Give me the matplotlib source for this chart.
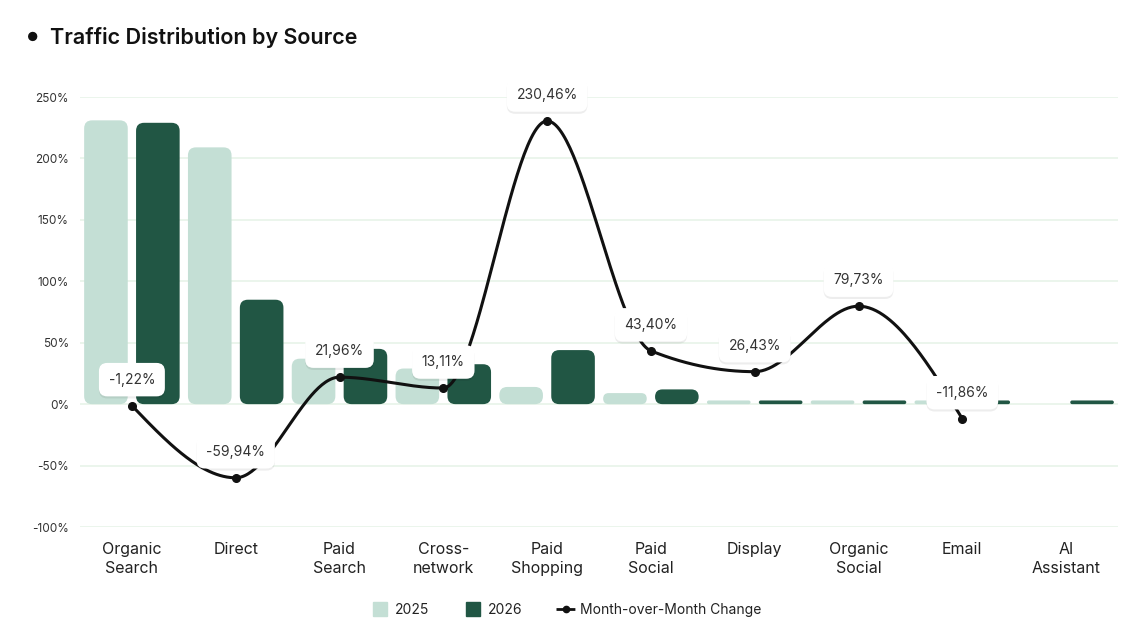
import numpy as np
import matplotlib
matplotlib.use("Agg")
import matplotlib.pyplot as plt
from matplotlib.patches import FancyBboxPatch
from matplotlib.lines import Line2D
import matplotlib.patheffects as pe

categories = ["Organic\nSearch", "Direct", "Paid\nSearch", "Cross-\nnetwork", "Paid\nShopping",
              "Paid\nSocial", "Display", "Organic\nSocial", "Email", "AI\nAssistant"]
y2025 = [231, 209, 37, 29, 14, 9, 3, 3, 3, 0]
y2026 = [229, 85, 45, 32.5, 44, 12, 3, 3, 3, 3]
mom = [-1.22, -59.94, 21.96, 13.11, 230.46, 43.40, 26.43, 79.73, -11.86, None]
yticks = [-100, -50, 0, 50, 100, 150, 200, 250]

C25 = "#c4dfd5"
C26 = "#215644"
GRID = "#e8f3e9"

plt.rcParams['font.family'] = ['Inter', 'DejaVu Sans']

W, H = 1148, 623
fig = plt.figure(figsize=(W / 100, H / 100), dpi=100)
L, R, T, B = 80, 1118, 97, 527
ax = fig.add_axes([L / W, 1 - B / H, (R - L) / W, (B - T) / H])
n = len(categories)
ax.set_xlim(-0.5, n - 0.5)
ax.set_ylim(-100, 250)
for s in ax.spines.values():
    s.set_visible(False)
ax.set_yticks(yticks)
ax.set_yticklabels([f"{v}%" for v in yticks], fontsize=8.5, color="#333333")
ax.tick_params(axis='y', length=0, pad=8)
ax.set_xticks(range(n))
ax.set_xticklabels(categories, fontsize=11.5, color="#222222", linespacing=1.3)
ax.tick_params(axis='x', length=0, pad=11)
ax.grid(axis='y', color=GRID, lw=1.2, zorder=0)
ax.set_axisbelow(True)

# pixel scales
px_x = (R - L) / n          # pixels per x unit
px_y = (B - T) / 350.0      # pixels per y unit
aspect = px_x / px_y

xs = np.arange(n)
bw = 0.42
off = 0.25
bars25 = ax.bar(xs - off, y2025, width=bw, color="none")
bars26 = ax.bar(xs + off, y2026, width=bw, color="none")

def rounded(rect, color):
    x, y = rect.get_x(), rect.get_y()
    w, h = rect.get_width(), rect.get_height()
    if h <= 0:
        return
    hp = h * px_y
    wp = w * px_x
    rp = min(8, hp / 2, wp / 2)
    r = rp / px_x
    p = FancyBboxPatch((x, y), w, h, boxstyle=f"round,pad=0,rounding_size={r}",
                       mutation_aspect=aspect, fc=color, ec="none", zorder=2)
    ax.add_patch(p)

for b in bars25:
    rounded(b, C25)
for b in bars26:
    rounded(b, C26)

# monotone (Steffen / d3 monotoneX) curve
mx = np.array([i for i, v in enumerate(mom) if v is not None], dtype=float)
my = np.array([v for v in mom if v is not None], dtype=float)
m = len(mx)
h = np.diff(mx)
s = np.diff(my) / h
t = np.zeros(m)
for i in range(1, m - 1):
    p = (s[i - 1] * h[i] + s[i] * h[i - 1]) / (h[i - 1] + h[i])
    t[i] = (np.sign(s[i - 1]) + np.sign(s[i])) * min(abs(s[i - 1]), abs(s[i]), 0.5 * abs(p))
t[0] = (3 * s[0] - t[1]) / 2
t[-1] = (3 * s[-1] - t[-2]) / 2
cx, cy = [], []
for i in range(m - 1):
    u = np.linspace(0, 1, 60)
    hh = h[i]
    h00 = 2 * u**3 - 3 * u**2 + 1
    h10 = u**3 - 2 * u**2 + u
    h01 = -2 * u**3 + 3 * u**2
    h11 = u**3 - u**2
    yy = h00 * my[i] + h10 * hh * t[i] + h01 * my[i + 1] + h11 * hh * t[i + 1]
    cx.extend(mx[i] + u * hh)
    cy.extend(yy)
ax.plot(cx, cy, color="#111111", lw=2.2, zorder=3, solid_capstyle='round')
ax.plot(mx, my, 'o', color="#111111", ms=5.5, zorder=4)

for x, v in zip(mx, my):
    lab = f"{v:.2f}%".replace(".", ",")
    tx = ax.annotate(lab, (x, v), xytext=(0, 26), textcoords="offset pixels",
                     ha="center", va="center", fontsize=10, color="#333333", zorder=6,
                     bbox=dict(boxstyle="round,pad=0.7,rounding_size=0.6", fc="white", ec="none"))
    tx.get_bbox_patch().set_path_effects([
        pe.SimplePatchShadow(offset=(0, -1.5), shadow_rgbFace="#000000", alpha=0.07, rho=1),
        pe.Normal()])

# title
fig.text(33 / W, 1 - 38 / H, "\u25CF", fontsize=9, color="#111111", ha="center", va="center")
fig.text(50 / W, 1 - 37 / H, "Traffic Distribution by Source", fontsize=15.5, fontweight="semibold",
         color="#111111", ha="left", va="center")

handles = [
    Line2D([], [], marker='s', ls='none', ms=10, mfc=C25, mec=C25),
    Line2D([], [], marker='s', ls='none', ms=10, mfc=C26, mec=C26),
    Line2D([], [], color="#111111", ls=(0, (2.6, 1.6)), lw=2, marker='o', ms=4.5),
]
fig.legend(handles, ["2025", "2026", "Month-over-Month Change"], loc="center",
           bbox_to_anchor=(566 / W, 1 - 610 / H), ncol=3, frameon=False, fontsize=10,
           handlelength=1.44, columnspacing=2.4, handletextpad=0.35, labelcolor="#222222")

fig.savefig("out.png", dpi=100, facecolor="white")
